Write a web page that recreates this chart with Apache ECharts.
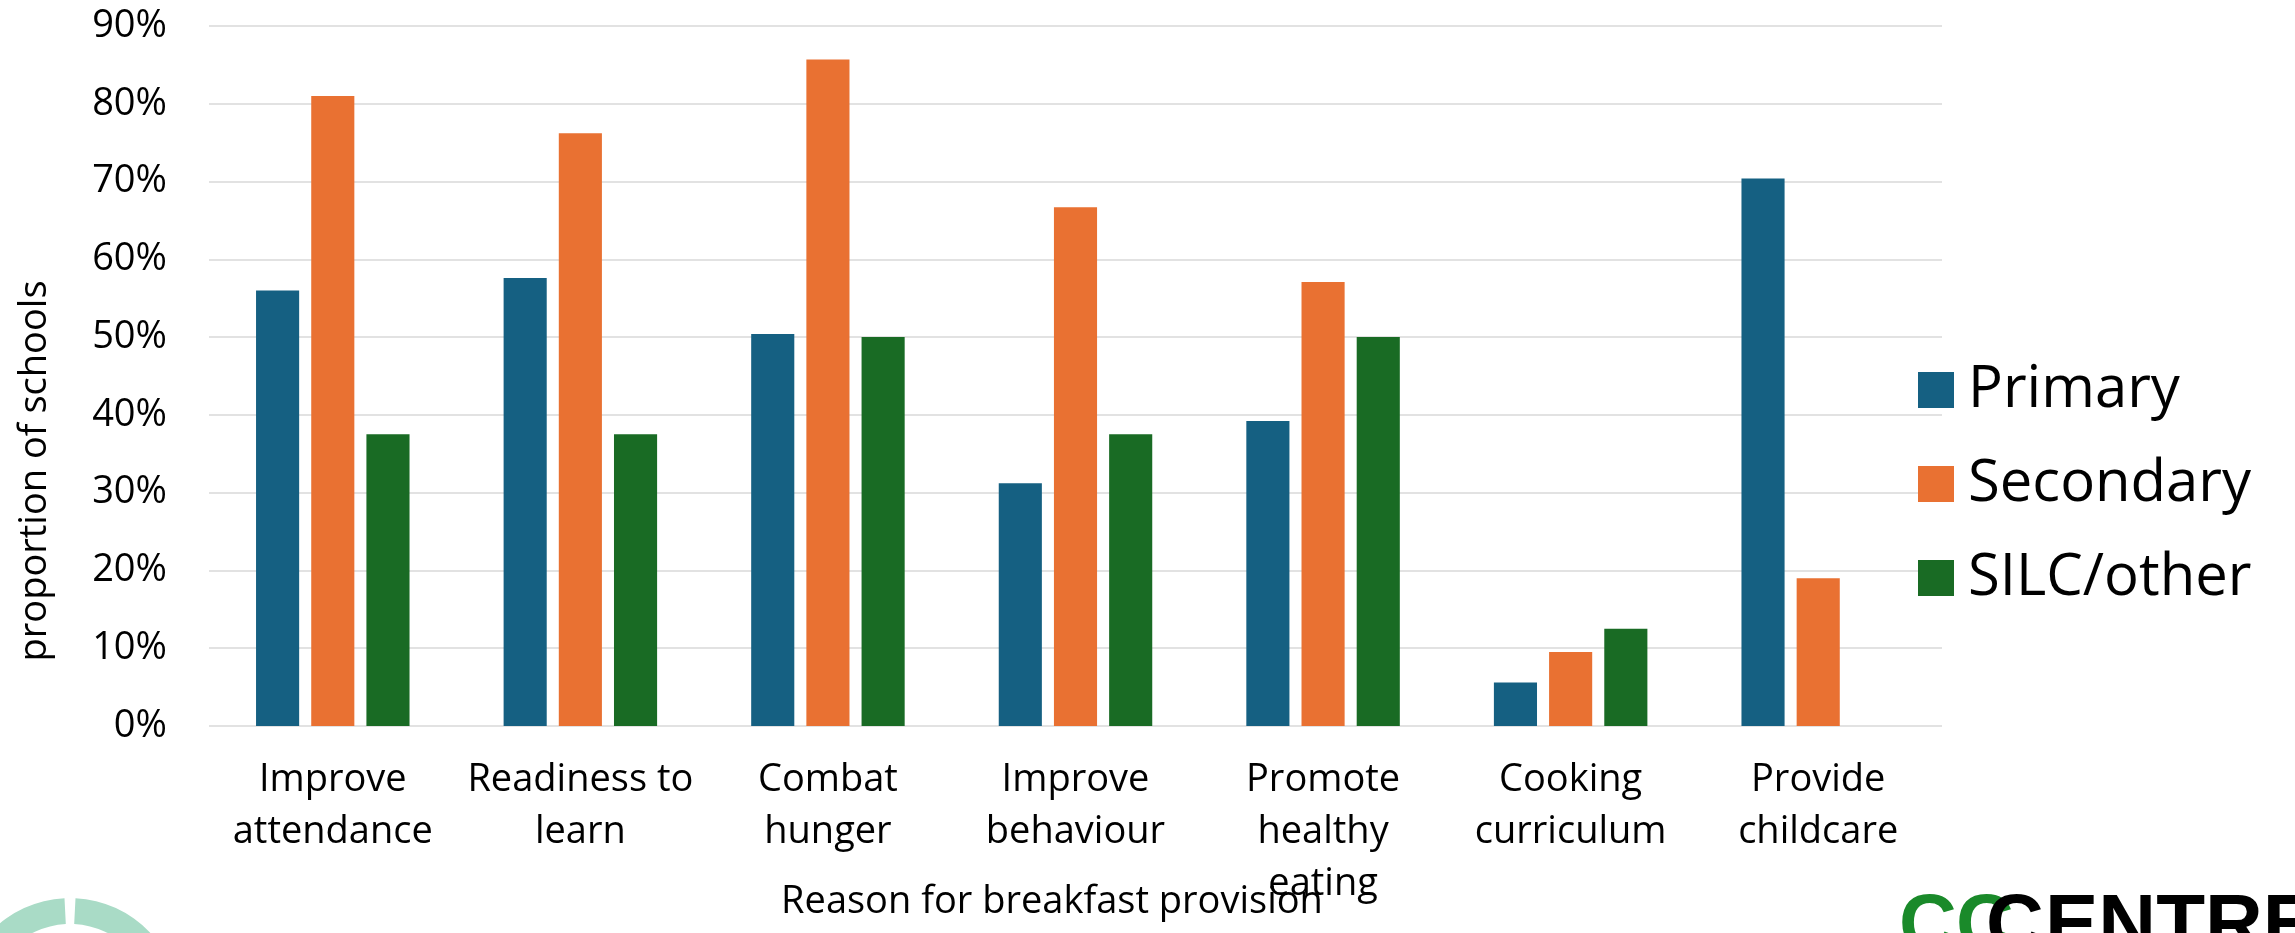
<!DOCTYPE html>
<html>
<head>
<meta charset="utf-8">
<script src="https://cdn.jsdelivr.net/npm/echarts@6/dist/echarts.min.js"></script>
<style>
  html, body { margin: 0; padding: 0; background: #ffffff; }
  #chart { width: 2295px; height: 933px; }
</style>
</head>
<body>
<div id="chart"></div>
<script>
// Reasons schools give for running breakfast provision, by school type (% of schools)
const categories = [
  'Improve\nattendance',
  'Readiness to\nlearn',
  'Combat\nhunger',
  'Improve\nbehaviour',
  'Promote\nhealthy\neating',
  'Cooking\ncurriculum',
  'Provide\nchildcare'
];
const seriesNames = ['Primary', 'Secondary', 'SILC/other'];
const primaryValues   = [56.0, 57.6, 50.4, 31.2, 39.2, 5.6, 70.4];
const secondaryValues = [81.0, 76.2, 85.7, 66.7, 57.1, 9.5, 19.0];
const silcValues      = [37.5, 37.5, 50.0, 37.5, 50.0, 12.5, 0];
const yMin = 0, yMax = 90, yStep = 10;
const xTitle = 'Reason for breakfast provision';
const yTitle = 'proportion of schools';

const colors = ['#156082', '#E97132', '#196B24'];
const FONT = '"Open Sans", "Liberation Sans", sans-serif';
const LOGO_FONT = '"Liberation Sans", Arial, sans-serif';

const chart = echarts.init(document.getElementById('chart'), null, { renderer: 'canvas' });

const seriesData = [primaryValues, secondaryValues, silcValues];

chart.setOption({
  animation: false,
  backgroundColor: '#ffffff',
  color: colors,
  textStyle: { fontFamily: FONT },
  grid: { left: 209, right: 353, top: 26, bottom: 207, containLabel: false },
  legend: {
    orient: 'vertical',
    left: 1918,
    top: 361,
    padding: 0,
    itemWidth: 36,
    itemHeight: 36,
    itemGap: 36,
    icon: 'rect',
    selectedMode: false,
    data: seriesNames,
    textStyle: {
      fontFamily: FONT,
      fontSize: 58,
      lineHeight: 58,
      color: '#000000',
      padding: [0, 0, 0, 9]
    }
  },
  xAxis: {
    type: 'category',
    data: categories,
    axisLine: { show: false },
    axisTick: { show: false },
    axisLabel: {
      interval: 0,
      margin: 28,
      fontFamily: FONT,
      fontSize: 38,
      lineHeight: 52,
      color: '#000000',
      align: 'center'
    }
  },
  yAxis: {
    type: 'value',
    min: yMin,
    max: yMax,
    interval: yStep,
    axisLine: { show: false },
    axisTick: { show: false },
    axisLabel: {
      margin: 42,
      fontFamily: FONT,
      fontSize: 38,
      color: '#000000',
      formatter: '{value}%'
    },
    splitLine: { show: true, lineStyle: { color: '#d9d9d9', width: 1.5 } }
  },
  series: seriesNames.map((name, i) => ({
    name: name,
    type: 'bar',
    data: seriesData[i],
    barGap: '28%',
    barCategoryGap: '38%',
    itemStyle: { color: colors[i] }
  })),
  graphic: [
    // value axis title
    {
      type: 'text',
      x: 35,
      y: 471,
      rotation: Math.PI / 2,
      style: {
        text: yTitle,
        fontFamily: FONT,
        fontSize: 38,
        fill: '#000000',
        align: 'center',
        verticalAlign: 'middle'
      }
    },
    // category axis title
    {
      type: 'text',
      x: 1052,
      y: 902,
      style: {
        text: xTitle,
        fontFamily: FONT,
        fontSize: 38,
        fill: '#000000',
        align: 'center',
        verticalAlign: 'middle'
      }
    },
    // circular-arrows emblem, bottom left
    {
      type: 'sector',
      shape: { cx: 70, cy: 1008, r0: 84, r: 110, startAngle: Math.PI, endAngle: Math.PI * 1.5 - 0.05, clockwise: true },
      style: { fill: '#a9dbc6' }
    },
    {
      type: 'sector',
      shape: { cx: 70, cy: 1008, r0: 84, r: 110, startAngle: Math.PI * 1.5 + 0.05, endAngle: Math.PI * 2, clockwise: true },
      style: { fill: '#a9dbc6' }
    },
    // wordmark, bottom right
    {
      type: 'text', x: 1899, y: 928,
      style: { text: 'C', fontFamily: LOGO_FONT, fontWeight: 'bold', fontSize: 80, fill: '#1a8a2a', align: 'left', verticalAlign: 'middle' }
    },
    {
      type: 'text', x: 1956, y: 928,
      style: { text: 'C', fontFamily: LOGO_FONT, fontWeight: 'bold', fontSize: 80, fill: '#1a8a2a', align: 'left', verticalAlign: 'middle' }
    },
    {
      type: 'text', x: 1986, y: 928,
      style: { text: 'C', fontFamily: LOGO_FONT, fontWeight: 'bold', fontSize: 80, fill: '#000000', align: 'left', verticalAlign: 'middle' }
    },
    {
      type: 'text', x: 2045, y: 928,
      style: { text: 'ENTRE', fontFamily: LOGO_FONT, fontWeight: 'bold', fontSize: 80, fill: '#000000', align: 'left', verticalAlign: 'middle' }
    }
  ]
});
</script>
</body>
</html>
